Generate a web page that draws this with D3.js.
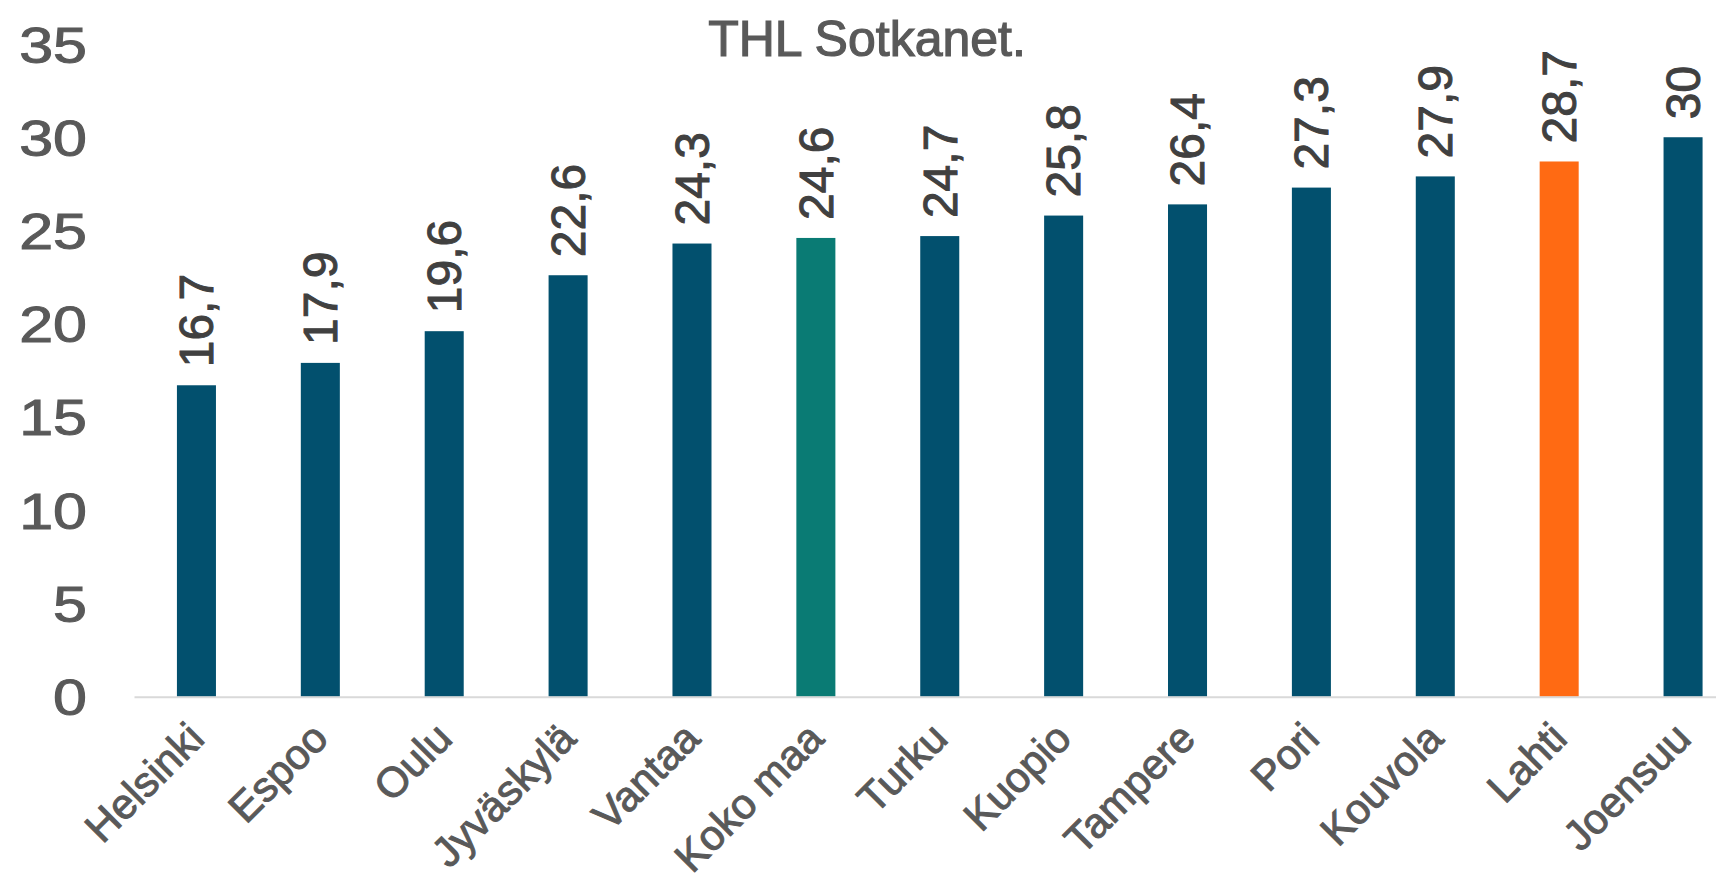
<!DOCTYPE html>
<html>
<head>
<meta charset="utf-8">
<script src="https://cdn.jsdelivr.net/npm/d3@7"></script>
<style>
	body { margin: 0; background: #fff; }
	#graphicContainer { width: 1716px; height: 882px; overflow: hidden; }
	text { font-family: "Liberation Sans", Arial, sans-serif; }
</style>
</head>
<body>
<div id="graphicContainer"></div>
<script>

// data

var categories = ["Helsinki", "Espoo", "Oulu", "Jyväskylä", "Vantaa", "Koko maa", "Turku",
	"Kuopio", "Tampere", "Pori", "Kouvola", "Lahti", "Joensuu"];

var values = [16.7, 17.9, 19.6, 22.6, 24.3, 24.6, 24.7, 25.8, 26.4, 27.3, 27.9, 28.7, 30];

var yTicks = [0, 5, 10, 15, 20, 25, 30, 35];

var titleLines = ["Osuus väestöstä, %, 2022. Lähde:", "THL Sotkanet."];

// bar colours: default, whole country, Lahti

var colour_choices = {
	"default": "#02506e",
	"Koko maa": "#0a7b74",
	"Lahti": "#ff6a13"
};

function draw_bars() {

		var width = 1716;
		var height = 882;

		d3.select("#graphicContainer svg").remove();

		var svg = d3.select("#graphicContainer").append("svg")
			.attr("width", width)
			.attr("height", height);

		// scales - the band range runs past the right edge, as in the original crop

		var x = d3.scaleBand()
			.domain(categories)
			.range([134.5, 1745])
			.paddingInner(0.685)
			.paddingOuter(0.3425);

		var y = d3.scaleLinear()
			.domain([0, 35])
			.range([696.7, 44]);

		var data = categories.map((c, i) => ({cat: c, value: values[i]}));

		// title, first line mostly cut off at the top

		svg.append("g")
			.selectAll("text")
			.data(titleLines)
			.enter()
			.append("text")
			.attr("x", 867)
			.attr("y", (d, i) => -9 + i * 65)
			.attr("text-anchor", "middle")
			.attr("font-size", 50)
			.attr("fill", "#595959")
			.attr("stroke", "#595959")
			.attr("stroke-width", 1.2)
			.text(d => d);

		// y axis labels only

		var yAxis = g => g
			.attr("transform", "translate(87,0)")
			.call(d3.axisLeft(y).tickValues(yTicks).tickSize(0).tickPadding(0))
			.call(g => g.select(".domain").remove())
			.call(g => g.selectAll("text")
				.attr("x", 0)
				.attr("dy", "0.36em")
				.attr("font-size", 50)
				.attr("font-family", "Liberation Sans, Arial, sans-serif")
				.attr("fill", "#595959")
				.attr("stroke", "#595959")
				.attr("stroke-width", 1)
				.attr("transform", "scale(1.22,1)"));

		svg.append("g").call(yAxis);

		// bars

		svg.append("g")
			.selectAll("rect")
			.data(data)
			.enter()
			.append("rect")
			.attr("x", d => x(d.cat))
			.attr("y", d => y(d.value))
			.attr("width", x.bandwidth())
			.attr("height", d => y(0) - y(d.value))
			.attr("fill", d => colour_choices[d.cat] || colour_choices["default"]);

		// baseline

		svg.append("line")
			.attr("x1", x.range()[0])
			.attr("x2", x.range()[1])
			.attr("y1", y(0) + 0.5)
			.attr("y2", y(0) + 0.5)
			.attr("stroke", "#d9d9d9")
			.attr("stroke-width", 2);

		// value labels, rotated

		svg.append("g")
			.selectAll("text")
			.data(data)
			.enter()
			.append("text")
			.attr("transform", d => `translate(${x(d.cat) + x.bandwidth() / 2},${y(d.value) - 18}) rotate(-90)`)
			.attr("dy", "0.35em")
			.attr("font-size", 48)
			.attr("fill", "#404040")
			.attr("stroke", "#404040")
			.attr("stroke-width", 1)
			.text(d => String(d.value).replace(".", ","));

		// category labels at 45 degrees

		svg.append("g")
			.selectAll("text")
			.data(categories)
			.enter()
			.append("text")
			.attr("transform", d => `translate(${x(d) + x.bandwidth() / 2 + 10},${y(0) + 44}) rotate(-45)`)
			.attr("text-anchor", "end")
			.attr("font-size", 42)
			.attr("fill", "#595959")
			.attr("stroke", "#595959")
			.attr("stroke-width", 1)
			.text(d => d);
}

draw_bars();

</script>
</body>
</html>
